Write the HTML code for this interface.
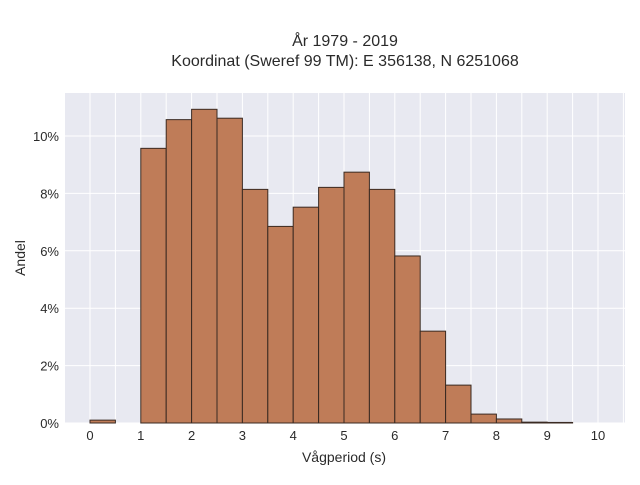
<!DOCTYPE html>
<html><head><meta charset="utf-8"><style>
body{margin:0;background:#fff;}
svg text{font-family:"Liberation Sans",sans-serif;fill:#2a2a2a;}
</style></head><body>
<svg id="c" width="640" height="480">
<rect x="65" y="93" width="560" height="330" fill="#e8e9f1"/>
<g id="grid"></g><g id="bars"></g><g id="ticks"></g>
<text x="345" y="46" text-anchor="middle" font-size="16">År 1979 - 2019</text>
<text x="345" y="66" text-anchor="middle" font-size="16">Koordinat (Sweref 99 TM): E 356138, N 6251068</text>
<text x="344" y="462" text-anchor="middle" font-size="14">Vågperiod (s)</text>
<text x="25" y="258" text-anchor="middle" font-size="14" transform="rotate(-90 25 258)">Andel</text>
</svg>
<script>
const binStarts=[0,0.5,1,1.5,2,2.5,3,3.5,4,4.5,5,5.5,6,6.5,7,7.5,8,8.5,9,9.5];
const shares=[0.1,0,9.57,10.57,10.93,10.62,8.14,6.85,7.52,8.21,8.74,8.14,5.82,3.2,1.32,0.31,0.14,0.03,0.02,0];
const xTicks=[0,1,2,3,4,5,6,7,8,9,10];
const yTicks=[0,2,4,6,8,10];
const NS="http://www.w3.org/2000/svg";
const X=v=>90+v*50.8, Y=v=>423-v*28.7;
function mk(t,a,p){const e=document.createElementNS(NS,t);for(const k in a)e.setAttribute(k,a[k]);p.appendChild(e);return e;}
const g=document.getElementById('grid'),b=document.getElementById('bars'),tk=document.getElementById('ticks');
for(let v=-0.5;v<=10.5;v+=0.5){if(X(v)<65||X(v)>625)continue;
const l=mk('line',{x1:X(v),x2:X(v),y1:93,y2:423,stroke:'#fff','stroke-width':1},g);

}
yTicks.forEach(v=>{const l=mk('line',{x1:65,x2:625,y1:Y(v),y2:Y(v),stroke:'#fff','stroke-width':1},g);


const t=mk('text',{x:59,y:Y(v)+5,'text-anchor':'end','font-size':13},tk);t.textContent=v+'%';

});
xTicks.forEach(v=>{const t=mk('text',{x:X(v),y:440,'text-anchor':'middle','font-size':13},tk);t.textContent=v;

});
binStarts.forEach((s,i)=>{if(shares[i]<=0)return;
const r=mk('rect',{x:X(s),y:Y(shares[i]),width:X(s+0.5)-X(s),height:423-Y(shares[i]),fill:'#bd7853','fill-opacity':0.97,stroke:'#3a2a22','stroke-width':1},b);

});
</script>
</body></html>
